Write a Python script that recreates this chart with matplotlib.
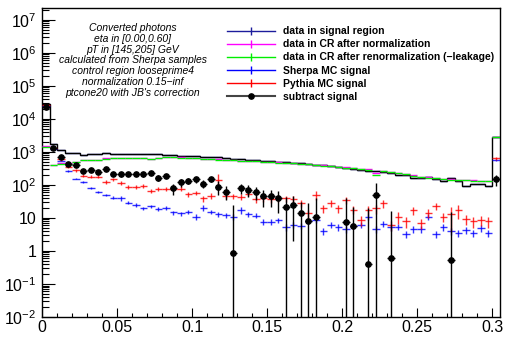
import numpy as np
import matplotlib
matplotlib.use("Agg")
import matplotlib.pyplot as plt
from matplotlib.lines import Line2D
from matplotlib.ticker import FixedLocator, FixedFormatter, MultipleLocator, LogLocator, NullFormatter

plt.rcParams['font.family'] = ['Liberation Sans', 'DejaVu Sans']
plt.rcParams['mathtext.fontset'] = 'custom'
plt.rcParams['mathtext.rm'] = 'Liberation Sans'
plt.rcParams['mathtext.it'] = 'Liberation Sans:italic'

nan = np.nan

# ptcone20 bins, 0.005 wide, last one is the overflow 0.300-0.305
edges = np.linspace(0.0, 0.305, 62)

# data in signal region (drawn as black hist + dark blue bars)
sr_data = [29000, 1800, 1120, 950, 950, 830, 880, 880, 950, 850,
           850, 850, 850, 850, 850, 850, 830, 800, 780, 760,
           740, 720, 700, 680, 650, 620, 600, 580, 560, 540,
           520, 500, 480, 470, 450, 430, 410, 390, 370, 350,
           330, 310, 290, 270, 260, 240, 235, 200, 200, 158,
           158, 180, 148, 130, 158, 130, 95, 105, 105, 95,
           2800]

# data in CR after normalization
cr_norm = [1480, 410, 450, 455, 505, 565, 570, 565, 640, 645,
           650, 645, 650, 645, 630, 650, 700, 690, 680, 670,
           650, 630, 610, 600, 580, 565, 550, 540, 525, 510,
           495, 480, 470, 460, 445, 430, 410, 395, 380, 360,
           345, 330, 310, 300, 230, 270, 245, 230, 220, 195,
           175, 170, 165, 155, 150, 145, 142, 138, 135, 132,
           2850]

# data in CR after renormalization (-leakage)
cr_renorm = [1450, 400, 445, 445, 500, 560, 560, 560, 630, 635,
             640, 640, 640, 640, 620, 640, 690, 680, 670, 660,
             640, 620, 600, 590, 570, 555, 540, 530, 515, 500,
             485, 470, 460, 450, 435, 420, 400, 385, 370, 350,
             335, 320, 300, 290, 195, 260, 240, 225, 215, 190,
             170, 165, 160, 150, 145, 140, 140, 135, 132, 130,
             2800]

sherpa = [25000, 1250, 550, 263, 157, 125, 82, 62, 51, 41,
          39, 29, 24.5, 19.4, 22.4, 18.5, 20.4, 14.7, 13.7, 15.4,
          10.9, 20.4, 15.4, 12.8, 12.3, 10.9, 17.2, 12.8, 11.7, 7.6,
          7.6, 8.6, 5.2, 6.3, 5.8, 8.0, 8.4, 4.1, 6.3, 5.2,
          4.6, 5.8, 6.3, 10.9, 4.6, 6.8, 5.2, 5.4, 3.2, 4.6,
          4.6, 10.9, 3.2, 5.2, 4.0, 3.4, 4.3, 3.4, 4.9, 3.4,
          560]
sherpa_err = [600, 60, 30, 15, 10, 9, 6, 5, 4, 4,
              6, 3, 3, 2.5, 3, 2.5, 3, 2, 2, 2.5,
              2, 4, 2.5, 2, 2, 2, 4, 2, 2, 1.5,
              1.5, 1.5, 1.2, 1.2, 1.2, 1.5, 1.5, 1, 1.2, 1.2,
              1, 1.2, 1.2, 2.5, 1, 1.5, 1.2, 1.2, 0.8, 1,
              1, 2.5, 0.8, 1.2, 0.9, 0.8, 1, 0.8, 1.2, 0.8,
              40]

pythia = [26000, 1300, 600, 360, 280, 190, 178, 178, 125, 147,
          117, 88, 88, 92, 67, 78, 78, 78, 78, 52,
          58, 39, 47, 140, 47, 46, 44, 55, 37, 39,
          37, 39, 39, 37, 29, 13.7, 51, 19.4, 29, 19.4,
          35, 18, 8.6, 18, 19.4, 27.6, 6.0, 10.9, 8.0, 17,
          7.1, 14.3, 23, 10.9, 12.8, 17, 9.2, 8.0, 8.6, 8.0,
          640]
pythia_err = [900, 90, 50, 35, 28, 20, 18, 18, 15, 17,
              14, 11, 11, 12, 10, 11, 11, 12, 12, 9,
              10, 8, 9, 70, 9, 9, 9, 10, 8, 8,
              8, 8, 8, 8, 7, 4, 16, 5, 7, 5,
              8, 5, 3, 5, 6, 7, 2, 4.5, 3, 5,
              2.5, 4, 5, 3.5, 9, 8, 3, 3, 3, 3,
              80]

# subtract signal; nan where the value is not positive (not drawn on log axis)
subtract = [23000, 1290, 680, 445, 400, 270, 280, 250, 300, 212,
            208, 215, 215, 208, 234, 165, 190, 80, 119, 135,
            147, 109, 147, 88, 62, 0.88, 82, 70, 62, 46,
            46, 39, 22, 24.5, 13.7, 8.0, 10.4, nan, nan, nan,
            7.3, 5.8, nan, 0.4, 51, nan, 0.63, nan, nan, nan,
            nan, nan, nan, nan, 0.55, nan, nan, nan, nan, nan,
            147]
subtract_err = [400, 60, 45, 40, 35, 30, 30, 30, 30, 30,
                30, 30, 30, 30, 30, 30, 30, 30, 30, 30,
                30, 28, 28, 40, 28, 24, 28, 28, 26, 24,
                24, 25, 22, 22.5, 17, 21, 29, nan, nan, nan,
                34, 15, nan, 19, 60, nan, 16, nan, nan, nan,
                nan, nan, nan, nan, 15, nan, nan, nan, nan, nan,
                55]

legend_labels = ["data in signal region",
                 "data in CR after normalization",
                 "data in CR after renormalization (\u2212leakage)",
                 "Sherpa MC signal",
                 "Pythia MC signal",
                 "subtract signal"]
info_lines = ["Converted photons",
              "eta in [0.00,0.60]",
              "pT in [145,205] GeV",
              "calculated from Sherpa samples",
              "control region looseprime4",
              "normalization 0.15\u2212inf",
              "ptcone20 with JB's correction"]

c_sr = '#1c1c9c'
c_norm = '#ff00ff'
c_renorm = '#00ee00'
c_sherpa = '#0000ff'
c_pythia = '#ff0000'

x = (edges[:-1] + edges[1:]) / 2
half = np.diff(edges) / 2

fig = plt.figure(figsize=(5.06, 3.37), dpi=100)
ax = fig.add_axes([42 / 506, 1 - 317 / 337, 457.7 / 506, 309 / 337])
ax.set_yscale('log')

ax.errorbar(x, sr_data, xerr=half, fmt='none', ecolor=c_sr, elinewidth=1.0, zorder=1.5)
ax.stairs(sr_data, edges, baseline=None, color='black', lw=1.0, zorder=2)
ax.errorbar(x, cr_norm, xerr=half, fmt='none', ecolor=c_norm, elinewidth=1.0, zorder=3)
ax.errorbar(x, cr_renorm, xerr=half, fmt='none', ecolor=c_renorm, elinewidth=1.0, zorder=3)
ax.errorbar(x, sherpa, xerr=half, yerr=sherpa_err, fmt='none', ecolor=c_sherpa,
            elinewidth=1.0, alpha=0.8, zorder=4)
ax.errorbar(x, pythia, xerr=half, yerr=pythia_err, fmt='none', ecolor=c_pythia,
            elinewidth=1.0, alpha=0.8, zorder=4)
ax.errorbar(x, subtract, xerr=half, yerr=subtract_err, fmt='o', color='black',
            ms=3.8, elinewidth=1.0, zorder=5)

ax.set_xlim(0, 0.305)
ax.set_ylim(1e-2, 2.3e7)

ax.xaxis.set_major_locator(FixedLocator([0, 0.05, 0.1, 0.15, 0.2, 0.25, 0.3]))
ax.xaxis.set_major_formatter(FixedFormatter(['0', '0.05', '0.1', '0.15', '0.2', '0.25', '0.3']))
ax.xaxis.set_minor_locator(MultipleLocator(0.01))

ydec = [1e-2, 1e-1, 1, 10, 1e2, 1e3, 1e4, 1e5, 1e6, 1e7]
ylab = [r'$\mathdefault{10^{-2}}$', r'$\mathdefault{10^{-1}}$', '1', '10',
        r'$\mathdefault{10^{2}}$', r'$\mathdefault{10^{3}}$', r'$\mathdefault{10^{4}}$',
        r'$\mathdefault{10^{5}}$', r'$\mathdefault{10^{6}}$', r'$\mathdefault{10^{7}}$']
ax.yaxis.set_major_locator(FixedLocator(ydec))
ax.yaxis.set_major_formatter(FixedFormatter(ylab))
ax.yaxis.set_minor_locator(LogLocator(base=10, subs=np.arange(2, 10), numticks=30))
ax.yaxis.set_minor_formatter(NullFormatter())

ax.tick_params(axis='both', which='both', direction='in', top=False, right=False, labelsize=11.5)
ax.tick_params(axis='y', which='major', length=9, width=0.8, pad=4)
ax.tick_params(axis='y', which='minor', length=5, width=0.8)
ax.tick_params(axis='x', which='major', length=6.5, width=0.8, pad=2)
ax.tick_params(axis='x', which='minor', length=3, width=0.8)
for sp in ax.spines.values():
    sp.set_linewidth(1.0)

handles = [
    Line2D([], [], color=c_sr, lw=1, marker='|', ms=6, mew=1),
    Line2D([], [], color=c_norm, lw=1, marker='|', ms=6, mew=1),
    Line2D([], [], color=c_renorm, lw=1, marker='|', ms=6, mew=1),
    Line2D([], [], color=c_sherpa, lw=1, marker='|', ms=6, mew=1),
    Line2D([], [], color=c_pythia, lw=1, marker='|', ms=6, mew=1),
    Line2D([], [], color='#444444', lw=1.5, marker='o', ms=3.8, mfc='black', mec='black'),
]
leg = ax.legend(handles, legend_labels, loc='upper left',
                bbox_to_anchor=(222 / 506, 1 - 21 / 337), bbox_transform=fig.transFigure,
                frameon=False, borderpad=0, handlelength=4.6, handletextpad=0.8,
                labelspacing=0.3, prop={'weight': 'bold', 'size': 7.5})

fig.text(133 / 506, 1 - 23 / 337, "\n".join(info_lines), ha='center', va='top',
         multialignment='center', style='italic', fontsize=7.5, linespacing=1.1)

fig.savefig('out.png', dpi=100)
